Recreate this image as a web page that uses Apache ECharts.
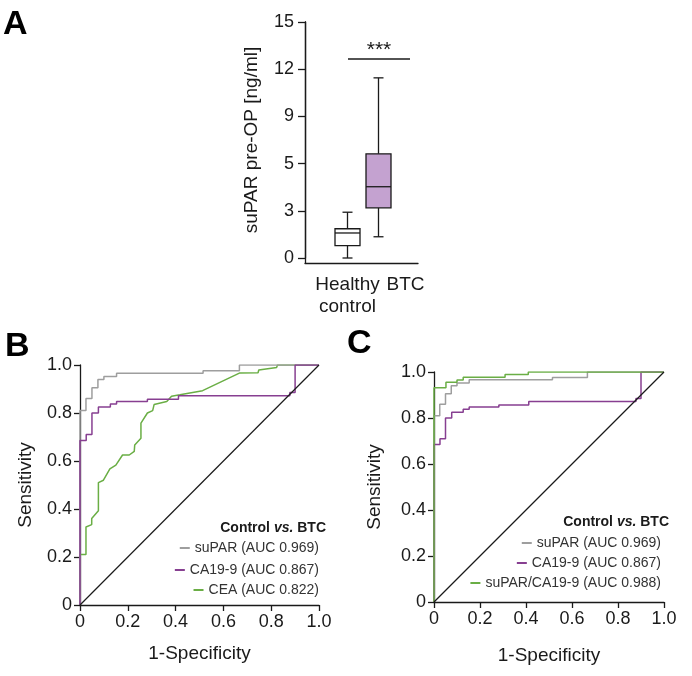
<!DOCTYPE html>
<html>
<head>
<meta charset="utf-8">
<script src="https://cdn.jsdelivr.net/npm/echarts@6/dist/echarts.min.js"></script>
<style>
html, body { margin: 0; padding: 0; background: #fff; }
#chart { width: 692px; height: 676px; }
</style>
</head>
<body>
<div id="chart"></div>
<script>
// panel A: suPAR pre-OP (ng/ml)
const groups = ['Healthy\ncontrol', 'BTC']
const boxMin = [0, 1.35]
const boxQ1 = [0.79, 3.19]
const boxMedian = [1.59, 4.53]
const boxQ3 = [1.86, 6.62]
const boxMax = [2.91, 11.45]
const yTicksA = ['0', '3', '5', '9', '12', '15']
const sigLevel = 12.65

// ROC curves: [1-specificity, sensitivity]
const rocSuPAR = [[0, 0], [0, 0.81], [0.025, 0.81], [0.025, 0.86], [0.05, 0.86], [0.05, 0.905], [0.075, 0.905], [0.075, 0.94], [0.1, 0.94], [0.1, 0.952], [0.153, 0.952], [0.153, 0.966], [0.515, 0.966], [0.515, 0.976], [0.667, 0.976], [0.667, 1], [1, 1]]
const rocCA199 = [[0, 0], [0, 0.685], [0.026, 0.685], [0.026, 0.71], [0.05, 0.71], [0.05, 0.8], [0.077, 0.8], [0.077, 0.825], [0.127, 0.825], [0.127, 0.838], [0.153, 0.838], [0.153, 0.848], [0.282, 0.848], [0.282, 0.857], [0.412, 0.857], [0.412, 0.872], [0.878, 0.872], [0.878, 0.885], [0.9, 0.885], [0.9, 1], [1, 1]]
const rocCEA = [[0, 0], [0, 0.21], [0.025, 0.21], [0.025, 0.325], [0.049, 0.335], [0.049, 0.36], [0.077, 0.393], [0.077, 0.51], [0.098, 0.52], [0.125, 0.567], [0.15, 0.583], [0.178, 0.625], [0.206, 0.625], [0.227, 0.64], [0.229, 0.667], [0.255, 0.695], [0.255, 0.758], [0.282, 0.8], [0.304, 0.81], [0.31, 0.835], [0.363, 0.848], [0.383, 0.87], [0.418, 0.876], [0.513, 0.893], [0.669, 0.967], [0.745, 0.968], [0.748, 0.979], [0.823, 0.99], [0.826, 1], [1, 1]]
const rocCombined = [[0, 0], [0, 0.932], [0.052, 0.932], [0.052, 0.955], [0.1, 0.955], [0.1, 0.965], [0.127, 0.965], [0.127, 0.977], [0.309, 0.977], [0.309, 0.989], [0.41, 0.989], [0.41, 1], [1, 1]]
const rocChance = [[0, 0], [1, 1]]

const nameSuPAR = 'suPAR (AUC 0.969)'
const nameCA199 = 'CA19-9 (AUC 0.867)'
const nameCEA = 'CEA (AUC 0.822)'
const nameCombined = 'suPAR/CA19-9 (AUC 0.988)'

const FONT = '"Liberation Sans", Arial, Helvetica, sans-serif'
const INK = '#1a1a1a'
const GRAY = '#9e9e9e'
const PURPLE = '#873f91'
const GREEN = '#6aae45'
const boxFills = ['#ffffff', '#c4a2d0']

const chart = echarts.init(document.getElementById('chart'))

const rocAxis = (gridIndex, name, nameGap) => ({
  type: 'value',
  gridIndex,
  min: 0,
  max: 1,
  interval: 0.2,
  name,
  nameLocation: 'middle',
  nameGap,
  nameTextStyle: { fontSize: 19, color: INK, fontFamily: FONT },
  splitLine: { show: false },
  axisLine: { lineStyle: { color: INK, width: 1.3 } },
  axisTick: { length: 6, lineStyle: { color: INK, width: 1.3 } },
  axisLabel: {
    fontSize: 18, color: INK, fontFamily: FONT, margin: 8,
    formatter: v => (v === 0 ? '0' : v.toFixed(1))
  }
})

const rocLine = (name, data, color, xAxisIndex, width) => ({
  name,
  type: 'line',
  xAxisIndex,
  yAxisIndex: xAxisIndex,
  data,
  showSymbol: false,
  symbol: 'none',
  silent: true,
  itemStyle: { color },
  lineStyle: { color, width: width || 1.5 }
})

const legendItem = (name, right, cy) => ({
  data: [name],
  right,
  top: cy - 8,
  padding: 0,
  icon: 'rect',
  itemWidth: 10,
  itemHeight: 2,
  selectedMode: false,
  textStyle: { fontSize: 14, color: '#333', fontFamily: FONT }
})

const legendTitle = (right, top) => ({
  text: '{b|Control }{i|vs.}{b| BTC}',
  right,
  top,
  padding: 0,
  textStyle: {
    rich: {
      b: { fontSize: 14, fontWeight: 'bold', color: INK, fontFamily: FONT },
      i: { fontSize: 14, fontWeight: 'bold', fontStyle: 'italic', color: INK, fontFamily: FONT }
    }
  }
})

const panelLetter = (text, left, top) => ({
  text, left, top, padding: 0,
  textStyle: { fontSize: 34, fontWeight: 'bold', color: '#000', fontFamily: FONT }
})

chart.setOption({
  animation: false,
  backgroundColor: '#fff',
  title: [
    panelLetter('A', 3, 8),
    panelLetter('B', 5, 330),
    panelLetter('C', 347, 327),
    legendTitle(366, 521),
    legendTitle(23, 515)
  ],
  legend: [
    legendItem(nameSuPAR, 373, 549),
    legendItem(nameCA199, 373, 571),
    legendItem(nameCEA, 373, 591),
    legendItem(nameSuPAR, 31, 544),
    legendItem(nameCA199, 31, 564),
    legendItem(nameCombined, 31, 584)
  ],
  grid: [
    { left: 332, top: 22, width: 62, height: 236 },   // A boxes
    { left: 305, top: 22, width: 113, height: 241 },  // A axis frame
    { left: 80, top: 365, width: 239, height: 240 },  // B
    { left: 434, top: 372, width: 230, height: 230 }  // C
  ],
  xAxis: [
    {
      type: 'category',
      gridIndex: 0,
      data: groups,
      offset: 5,
      axisLine: { show: false },
      axisTick: { alignWithLabel: true, length: 6, lineStyle: { color: INK, width: 1.3 } },
      axisLabel: {
        interval: 0,
        fontSize: 19, lineHeight: 22, color: INK, fontFamily: FONT, margin: 11,
        formatter: (v, i) => (i === 1 ? '{shift|' + v + '}' : v),
        rich: { shift: { fontSize: 19, color: INK, fontFamily: FONT, padding: [0, 0, 0, 54] } }
      }
    },
    {
      type: 'value',
      gridIndex: 1,
      min: 0,
      max: 1,
      axisLine: { lineStyle: { color: INK, width: 1.3 } },
      axisTick: { show: false },
      axisLabel: { show: false },
      splitLine: { show: false }
    },
    rocAxis(2, '1-Specificity', 39),
    rocAxis(3, '1-Specificity', 44)
  ],
  yAxis: [
    {
      type: 'value',
      gridIndex: 0,
      min: 0,
      max: 15,
      interval: 3,
      offset: 27,
      name: 'suPAR pre-OP [ng/ml]',
      nameLocation: 'middle',
      nameGap: 44,
      nameTextStyle: { fontSize: 19, color: INK, fontFamily: FONT },
      splitLine: { show: false },
      axisLine: { show: true, lineStyle: { color: INK, width: 1.3 } },
      axisTick: { show: true, length: 7, lineStyle: { color: INK, width: 1.3 } },
      axisLabel: {
        fontSize: 18, color: INK, fontFamily: FONT, margin: 11,
        formatter: v => yTicksA[Math.round(v / 3)]
      }
    },
    {
      type: 'value',
      gridIndex: 1,
      min: 0,
      max: 1,
      axisLine: { show: true, lineStyle: { color: INK, width: 1.3 } },
      axisTick: { show: false },
      axisLabel: { show: false },
      splitLine: { show: false }
    },
    rocAxis(2, 'Sensitivity', 45),
    rocAxis(3, 'Sensitivity', 50)
  ],
  graphic: [
    {
      type: 'line',
      shape: { x1: 348, y1: 59, x2: 410, y2: 59 },
      style: { stroke: INK, lineWidth: 1.3 }
    },
    {
      type: 'text',
      x: 379,
      y: 40,
      style: { text: '***', fill: INK, font: '21px ' + FONT, align: 'center', verticalAlign: 'top' }
    }
  ],
  series: [
    {
      type: 'custom',
      xAxisIndex: 0,
      yAxisIndex: 0,
      silent: true,
      data: groups.map((g, i) => [i, boxMin[i], boxQ1[i], boxMedian[i], boxQ3[i], boxMax[i]]),
      encode: { x: 0, y: [1, 2, 3, 4, 5] },
      renderItem: (params, api) => {
        const i = api.value(0)
        const cx = api.coord([i, 0])[0]
        const y = k => api.coord([i, api.value(k)])[1]
        const yMin = y(1), yQ1 = y(2), yMed = y(3), yQ3 = y(4), yMax = y(5)
        const half = 12.5, cap = 5
        const stroke = { stroke: INK, lineWidth: 1.3 }
        return {
          type: 'group',
          children: [
            { type: 'line', shape: { x1: cx, y1: yMin, x2: cx, y2: yQ1 }, style: stroke },
            { type: 'line', shape: { x1: cx, y1: yQ3, x2: cx, y2: yMax }, style: stroke },
            { type: 'line', shape: { x1: cx - cap, y1: yMin, x2: cx + cap, y2: yMin }, style: stroke },
            { type: 'line', shape: { x1: cx - cap, y1: yMax, x2: cx + cap, y2: yMax }, style: stroke },
            { type: 'rect', shape: { x: cx - half, y: yQ3, width: half * 2, height: yQ1 - yQ3 }, style: { fill: boxFills[i], stroke: INK, lineWidth: 1.3 } },
            { type: 'line', shape: { x1: cx - half, y1: yMed, x2: cx + half, y2: yMed }, style: stroke }
          ]
        }
      }
    },
    // B
    rocLine(nameCEA, rocCEA, GREEN, 2),
    rocLine(nameSuPAR, rocSuPAR, GRAY, 2),
    rocLine(nameCA199, rocCA199, PURPLE, 2),
    rocLine('chance B', rocChance, INK, 2, 1.2),
    // C
    rocLine(nameSuPAR, rocSuPAR, GRAY, 3),
    rocLine(nameCA199, rocCA199, PURPLE, 3),
    rocLine(nameCombined, rocCombined, GREEN, 3),
    rocLine('chance C', rocChance, INK, 3, 1.2)
  ]
})
</script>
</body>
</html>
